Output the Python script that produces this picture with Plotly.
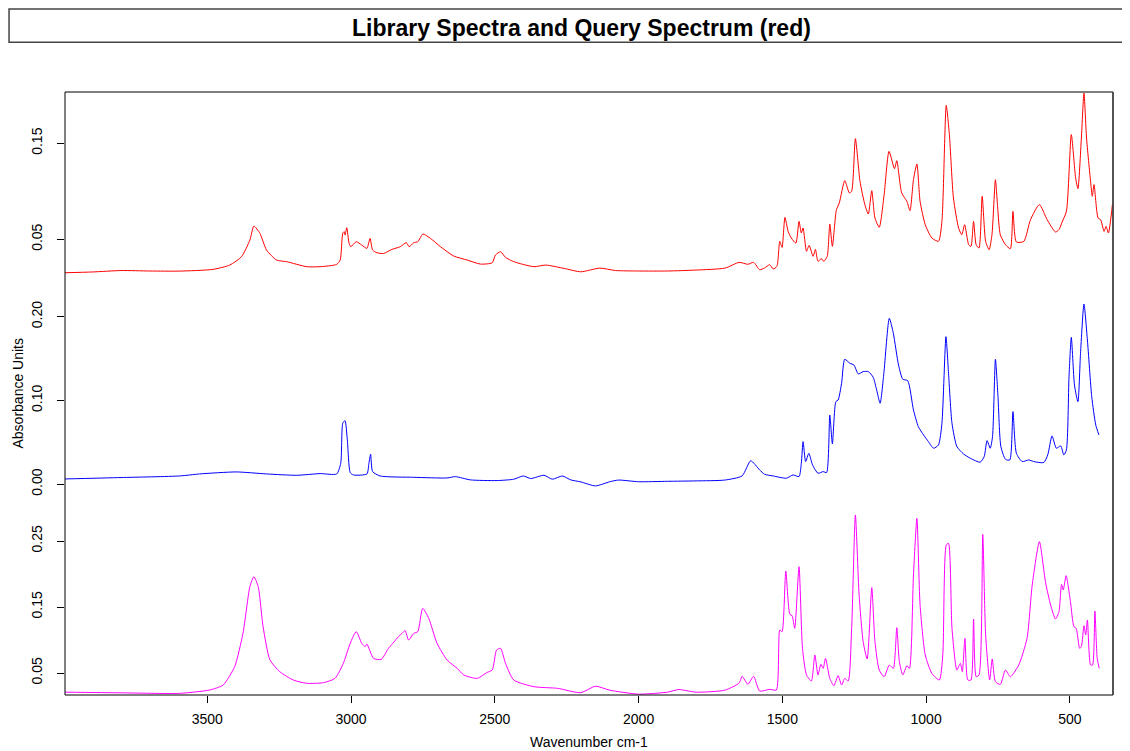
import plotly.graph_objects as go

# ---------------- data ----------------
wn_red = [3995, 3900, 3800, 3700, 3596, 3480, 3422, 3381, 3352, 3338,
          3317, 3294, 3259, 3224, 3154, 3108, 3050, 3038, 3029, 3024,
          3021, 3015, 3007, 3001, 2982, 2963, 2945, 2934, 2925, 2910,
          2887, 2858, 2829, 2808, 2798, 2782, 2768, 2750, 2724, 2689,
          2643, 2596, 2550, 2509, 2498, 2480, 2463, 2434, 2364, 2323,
          2259, 2201, 2135, 2080, 2000, 1900, 1800, 1700, 1650, 1620,
          1600, 1579, 1562, 1544, 1532, 1519, 1509, 1501, 1491, 1480,
          1469, 1453, 1442, 1434, 1428, 1416, 1407, 1393, 1385, 1376,
          1364, 1356, 1344, 1335, 1326, 1312, 1302, 1283, 1267, 1259,
          1246, 1230, 1213, 1201, 1189, 1178, 1163, 1146, 1129, 1110,
          1102, 1085, 1067, 1056, 1044, 1032, 1021, 1003, 980, 957,
          945, 930, 919, 905, 887, 876, 866, 852, 844, 835,
          826, 816, 805, 793, 781, 771, 759, 751, 742, 724,
          707, 698, 686, 660, 637, 606, 579, 550, 538, 527,
          512, 495, 480, 472, 460, 451, 442, 428, 422, 416,
          402, 393, 381, 374, 366, 352]
ab_red = [0.0152, 0.0160, 0.0175, 0.0170, 0.0169, 0.0187, 0.0232, 0.0319, 0.0492, 0.0638,
          0.0562, 0.0388, 0.0284, 0.0267, 0.0215, 0.0215, 0.0239, 0.0284, 0.0562, 0.0580,
          0.0544, 0.0621, 0.0458, 0.0423, 0.0475, 0.0440, 0.0406, 0.0510, 0.0388, 0.0360,
          0.0353, 0.0395, 0.0423, 0.0465, 0.0423, 0.0465, 0.0475, 0.0555, 0.0510, 0.0423,
          0.0326, 0.0284, 0.0242, 0.0256, 0.0336, 0.0371, 0.0312, 0.0267, 0.0215, 0.0232,
          0.0197, 0.0162, 0.0200, 0.0175, 0.0170, 0.0170, 0.0180, 0.0200, 0.0260, 0.0240,
          0.0260, 0.0184, 0.0201, 0.0236, 0.0191, 0.0218, 0.0479, 0.0416, 0.0729, 0.0583,
          0.0514, 0.0461, 0.0687, 0.0566, 0.0618, 0.0375, 0.0437, 0.0323, 0.0395, 0.0271,
          0.0298, 0.0271, 0.0323, 0.0659, 0.0427, 0.0809, 0.0878, 0.1111, 0.0983, 0.1000,
          0.1548, 0.1104, 0.0861, 0.0764, 0.1007, 0.0722, 0.0625, 0.0965, 0.1416, 0.1236,
          0.1319, 0.0983, 0.0896, 0.0798, 0.1121, 0.1284, 0.0896, 0.0652, 0.0514, 0.0479,
          0.0687, 0.1895, 0.1590, 0.0930, 0.0618, 0.0548, 0.0652, 0.0444, 0.0427, 0.0687,
          0.0444, 0.0409, 0.0948, 0.0479, 0.0392, 0.0548, 0.1121, 0.0826, 0.0548, 0.0444,
          0.0402, 0.0791, 0.0472, 0.0479, 0.0704, 0.0861, 0.0704, 0.0576, 0.0600, 0.0680,
          0.0791, 0.1590, 0.1139, 0.1027, 0.1555, 0.2024, 0.1555, 0.1104, 0.0948, 0.1069,
          0.0722, 0.0704, 0.0583, 0.0635, 0.0566, 0.0861]

wn_blue = [3995, 3800, 3596, 3527, 3399, 3294, 3189, 3108, 3050, 3036,
           3029, 3021, 3013, 3003, 2992, 2945, 2938, 2932, 2925, 2899,
           2782, 2666, 2637, 2585, 2492, 2434, 2401, 2375, 2329, 2300,
           2265, 2236, 2201, 2150, 2100, 2070, 2000, 1900, 1800, 1700,
           1640, 1610, 1579, 1562, 1532, 1486, 1463, 1442, 1434, 1428,
           1419, 1408, 1395, 1376, 1358, 1346, 1335, 1326, 1314, 1306,
           1294, 1283, 1265, 1251, 1236, 1219, 1201, 1184, 1172, 1160,
           1147, 1128, 1114, 1096, 1081, 1064, 1044, 1027, 1009, 992,
           974, 957, 945, 931, 922, 910, 893, 870, 846, 812,
           798, 788, 777, 769, 759, 750, 740, 724, 709, 698,
           686, 666, 643, 626, 591, 577, 562, 547, 532, 521,
           512, 503, 495, 484, 472, 463, 451, 439, 424, 410,
           399]
ab_blue = [0.0063, 0.0080, 0.0099, 0.0123, 0.0147, 0.0123, 0.0107, 0.0127, 0.0123, 0.0251,
           0.0728, 0.0760, 0.0529, 0.0139, 0.0111, 0.0123, 0.0251, 0.0358, 0.0151, 0.0099,
           0.0083, 0.0075, 0.0091, 0.0052, 0.0044, 0.0060, 0.0099, 0.0068, 0.0107, 0.0060,
           0.0099, 0.0052, 0.0028, -0.0020, 0.0030, 0.0050, 0.0030, 0.0035, 0.0040, 0.0050,
           0.0100, 0.0280, 0.0171, 0.0119, 0.0099, 0.0072, 0.0111, 0.0092, 0.0251, 0.0509,
           0.0271, 0.0370, 0.0231, 0.0131, 0.0151, 0.0139, 0.0827, 0.0481, 0.0986, 0.1006,
           0.1205, 0.1492, 0.1444, 0.1424, 0.1317, 0.1345, 0.1345, 0.1277, 0.1126, 0.0967,
           0.1325, 0.1981, 0.1802, 0.1424, 0.1253, 0.1237, 0.0887, 0.0688, 0.0589, 0.0509,
           0.0430, 0.0469, 0.0728, 0.1762, 0.1325, 0.0728, 0.0450, 0.0362, 0.0310, 0.0263,
           0.0330, 0.0521, 0.0430, 0.0569, 0.1492, 0.1046, 0.0450, 0.0298, 0.0290, 0.0867,
           0.0370, 0.0271, 0.0290, 0.0271, 0.0259, 0.0350, 0.0577, 0.0430, 0.0458, 0.0350,
           0.0410, 0.1285, 0.1754, 0.1185, 0.0986, 0.1563, 0.2152, 0.1722, 0.1046, 0.0708,
           0.0589]

wn_mag = [3995, 3800, 3596, 3492, 3445, 3405, 3376, 3352, 3338, 3323,
          3306, 3282, 3248, 3201, 3154, 3096, 3056, 3027, 3003, 2982,
          2963, 2951, 2945, 2922, 2895, 2870, 2855, 2835, 2823, 2812,
          2800, 2782, 2768, 2751, 2730, 2701, 2666, 2631, 2608, 2561,
          2529, 2509, 2494, 2480, 2463, 2434, 2364, 2282, 2201, 2150,
          2100, 2000, 1900, 1860, 1800, 1700, 1650, 1640, 1620, 1600,
          1579, 1544, 1521, 1509, 1501, 1488, 1474, 1466, 1457, 1442,
          1430, 1416, 1399, 1387, 1376, 1366, 1358, 1350, 1335, 1321,
          1306, 1294, 1283, 1271, 1259, 1246, 1233, 1219, 1205, 1189,
          1178, 1163, 1146, 1128, 1114, 1102, 1093, 1081, 1067, 1058,
          1044, 1032, 1021, 1003, 980, 954, 942, 930, 922, 910,
          893, 881, 874, 865, 855, 844, 835, 826, 816, 803,
          793, 779, 770, 759, 742, 724, 707, 678, 649, 631,
          606, 585, 567, 550, 538, 529, 523, 513, 498, 486,
          478, 466, 460, 451, 445, 439, 428, 421, 413, 405,
          398]
ab_mag = [0.0210, 0.0200, 0.0192, 0.0243, 0.0318, 0.0596, 0.1101, 0.1808, 0.1960, 0.1808,
          0.1202, 0.0697, 0.0520, 0.0394, 0.0344, 0.0354, 0.0419, 0.0647, 0.0950, 0.1127,
          0.0950, 0.0899, 0.0939, 0.0722, 0.0707, 0.0874, 0.0950, 0.1051, 0.1101, 0.1142,
          0.1000, 0.1101, 0.1127, 0.1480, 0.1329, 0.0950, 0.0697, 0.0571, 0.0470, 0.0419,
          0.0505, 0.0546, 0.0849, 0.0874, 0.0647, 0.0394, 0.0293, 0.0268, 0.0202, 0.0300,
          0.0240, 0.0180, 0.0210, 0.0250, 0.0210, 0.0240, 0.0350, 0.0450, 0.0330, 0.0450,
          0.0227, 0.0253, 0.0243, 0.1152, 0.1126, 0.2045, 0.1389, 0.1369, 0.1177, 0.2111,
          0.0874, 0.0470, 0.0379, 0.0773, 0.0470, 0.0631, 0.0571, 0.0722, 0.0419, 0.0308,
          0.0460, 0.0318, 0.0419, 0.0379, 0.1177, 0.2894, 0.1682, 0.0975, 0.0712, 0.1793,
          0.0975, 0.0545, 0.0444, 0.0621, 0.0571, 0.1187, 0.0672, 0.0470, 0.0611, 0.0571,
          0.1985, 0.2843, 0.1530, 0.0773, 0.0495, 0.0394, 0.0773, 0.2439, 0.2465, 0.1177,
          0.0545, 0.0647, 0.0520, 0.1025, 0.0394, 0.0394, 0.1318, 0.0444, 0.0470, 0.2601,
          0.1076, 0.0394, 0.0712, 0.0369, 0.0328, 0.0545, 0.0444, 0.0621, 0.1025, 0.1833,
          0.2490, 0.1884, 0.1530, 0.1318, 0.1429, 0.1843, 0.1758, 0.1975, 0.1581, 0.1202,
          0.1177, 0.0874, 0.0899, 0.1217, 0.1076, 0.1303, 0.0621, 0.0621, 0.1439, 0.0722,
          0.0571]

x_ticks = [3500, 3000, 2500, 2000, 1500, 1000, 500]
red_ticks = [0.05, 0.15]
blue_ticks = [0.00, 0.10, 0.20]
mag_ticks = [0.05, 0.15, 0.25]

title_text = "Library Spectra and Query Spectrum (red)"
x_title = "Wavenumber cm-1"
y_title = "Absorbance Units"

# ---------------- figure ----------------
# the page body adds an 8px margin, so the figure is 8px smaller and margins shifted
FONT = "Liberation Sans, Arial, sans-serif"
SMOOTH = 0.6
fig = go.Figure()
fig.add_trace(go.Scatter(x=wn_red, y=ab_red, mode="lines", xaxis="x", yaxis="y",
                         line=dict(color="#FF0000", width=1, shape="spline", smoothing=SMOOTH),
                         showlegend=False))
fig.add_trace(go.Scatter(x=wn_blue, y=ab_blue, mode="lines", xaxis="x", yaxis="y2",
                         line=dict(color="#0000FF", width=1, shape="spline", smoothing=SMOOTH),
                         showlegend=False))
fig.add_trace(go.Scatter(x=wn_mag, y=ab_mag, mode="lines", xaxis="x", yaxis="y3",
                         line=dict(color="#FF00FF", width=1, shape="spline", smoothing=SMOOTH),
                         showlegend=False))

yax_common = dict(showgrid=False, zeroline=False, showline=False, ticks="outside",
                  ticklen=7, tickwidth=1, tickcolor="#000", tickangle=-90,
                  ticklabelstandoff=9,
                  tickfont=dict(family=FONT, size=14, color="#000"), anchor="x",
                  tickformat=".2f")

fig.update_layout(
    width=1122, height=743,
    margin=dict(l=57, r=17, t=84, b=56),
    paper_bgcolor="white", plot_bgcolor="white",
    xaxis=dict(range=[3995, 350], showgrid=False, zeroline=False, showline=False,
               ticks="outside", ticklen=7, tickwidth=1, tickcolor="#000",
               tickvals=x_ticks, ticktext=[str(t) for t in x_ticks],
               ticklabelstandoff=4,
               tickfont=dict(family=FONT, size=14, color="#000"), anchor="y3"),
    yaxis=dict(domain=[0.6716, 1.0], range=[-0.0028, 0.2034], tickvals=red_ticks, **yax_common),
    yaxis2=dict(domain=[0.3284, 0.6716], range=[-0.0152, 0.2319], tickvals=blue_ticks, **yax_common),
    yaxis3=dict(domain=[0.0, 0.3284], range=[0.0167, 0.3167], tickvals=mag_ticks, **yax_common),
)

# frame around plot region
fig.add_shape(type="rect", xref="paper", yref="paper", x0=0, x1=1, y0=0, y1=1,
              line=dict(color="#000", width=1))
fig.add_shape(type="line", xref="paper", yref="paper", x0=1, x1=1, y0=0, y1=1,
              line=dict(color="#444", width=1.5))
# title box (top edge kept just inside the figure)
fig.add_shape(type="rect", xref="paper", yref="paper", x0=-0.0534, x1=1.03,
              y0=1.0823, y1=1.1376, line=dict(color="#444", width=1.5))

fig.add_annotation(text="<b>" + title_text + "</b>", xref="paper", yref="paper",
                   x=0.4933, y=1.1067, showarrow=False, xanchor="center", yanchor="middle",
                   font=dict(family=FONT, size=23, color="#000"))
fig.add_annotation(text=x_title, xref="paper", yref="paper", x=0.5, y=-0.078,
                   showarrow=False, xanchor="center", yanchor="middle",
                   font=dict(family=FONT, size=14, color="#000"))
fig.add_annotation(text=y_title, xref="paper", yref="paper", x=-0.0458, y=0.5,
                   showarrow=False, xanchor="center", yanchor="middle", textangle=-90,
                   font=dict(family=FONT, size=14, color="#000"))

fig.write_html("out.html")
